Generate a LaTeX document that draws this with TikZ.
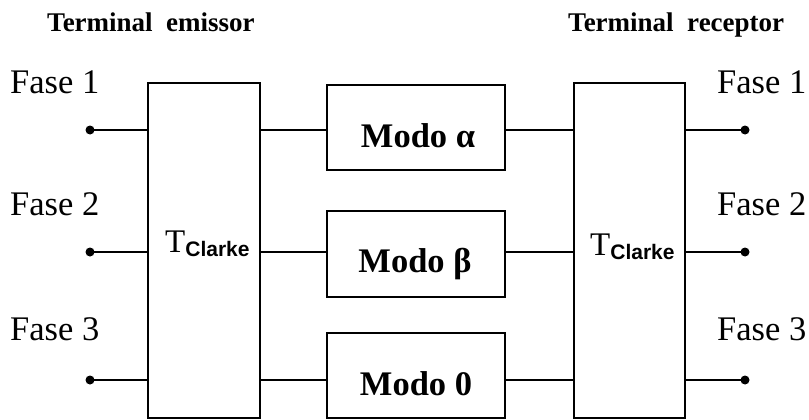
\documentclass[tikz,border=0pt]{standalone}
\usepackage{fontspec}
\setmainfont{Liberation Serif}
\setsansfont{Liberation Sans}
\begin{document}
\begin{tikzpicture}[x=1pt,y=-1pt,
  box/.style={draw,line width=2pt,minimum width=#1,inner sep=0pt},
  conn/.style={line width=1.8pt},
  fase/.style={anchor=base west,inner sep=0pt,font=\fontsize{34.5}{34.5}\selectfont},
  modo/.style={anchor=base,inner sep=0pt,font=\bfseries\fontsize{34.5}{34.5}\selectfont},
  titulo/.style={anchor=base west,inner sep=0pt,font=\bfseries\fontsize{27}{27}\selectfont},
  tclarke/.style={anchor=base west,inner sep=0pt}]
\useasboundingbox (0,0) rectangle (809,420);
% big boxes
\node[box=112pt,minimum height=335pt] (LB) at (204,250.5) {};
\node[box=111pt,minimum height=335pt] (RB) at (629.5,250.5) {};
% mode boxes
\node[box=178pt,minimum height=85pt] (MA) at (416,127.5) {};
\node[box=178pt,minimum height=86pt] (MB) at (416,254) {};
\node[box=178pt,minimum height=85pt] (M0) at (416,375.5) {};
\node[modo] (tMA) at (418,147) {Modo α};
\node[modo] (tMB) at (415,272) {Modo β};
\node[modo] (tM0) at (416,395) {Modo 0};
% T Clarke
\newcommand{\tclk}{{\fontsize{33}{33}\selectfont T}\raisebox{-4pt}{\sffamily\bfseries\fontsize{21}{21}\selectfont Clarke}}
\node[tclarke] (tL) at (165,252) {\tclk};
\node[tclarke] (tR) at (590,255) {\tclk};
% titles
\node[titulo] (ttl) at (47,32) {Terminal\ \ emissor};
\node[titulo] (ttr) at (568,32) {Terminal\ \ receptor};
% phase labels
\node[fase] (fl1) at (10,93) {Fase 1};
\node[fase] (fl2) at (10,215) {Fase 2};
\node[fase] (fl3) at (10,340) {Fase 3};
\node[fase] (fr1) at (717,93) {Fase 1};
\node[fase] (fr2) at (717,215) {Fase 2};
\node[fase] (fr3) at (717,340) {Fase 3};
% terminals
\coordinate (l1) at (90,130);
\coordinate (l2) at (90,252);
\coordinate (l3) at (90,380);
\coordinate (r1) at (745,130);
\coordinate (r2) at (745,252);
\coordinate (r3) at (745,380);
\foreach \p in {l1,l2,l3,r1,r2,r3} \fill (\p) circle (4.5pt);
% connectors
\draw[conn] (l1) -- (l1 -| LB.west);
\draw[conn] (l2) -- (l2 -| LB.west);
\draw[conn] (l3) -- (l3 -| LB.west);
\draw[conn] (LB.east |- l1) -- (MA.west |- l1);
\draw[conn] (LB.east |- l2) -- (MB.west |- l2);
\draw[conn] (LB.east |- l3) -- (M0.west |- l3);
\draw[conn] (MA.east |- r1) -- (RB.west |- r1);
\draw[conn] (MB.east |- r2) -- (RB.west |- r2);
\draw[conn] (M0.east |- r3) -- (RB.west |- r3);
\draw[conn] (RB.east |- r1) -- (r1);
\draw[conn] (RB.east |- r2) -- (r2);
\draw[conn] (RB.east |- r3) -- (r3);
\end{tikzpicture}
\end{document}
